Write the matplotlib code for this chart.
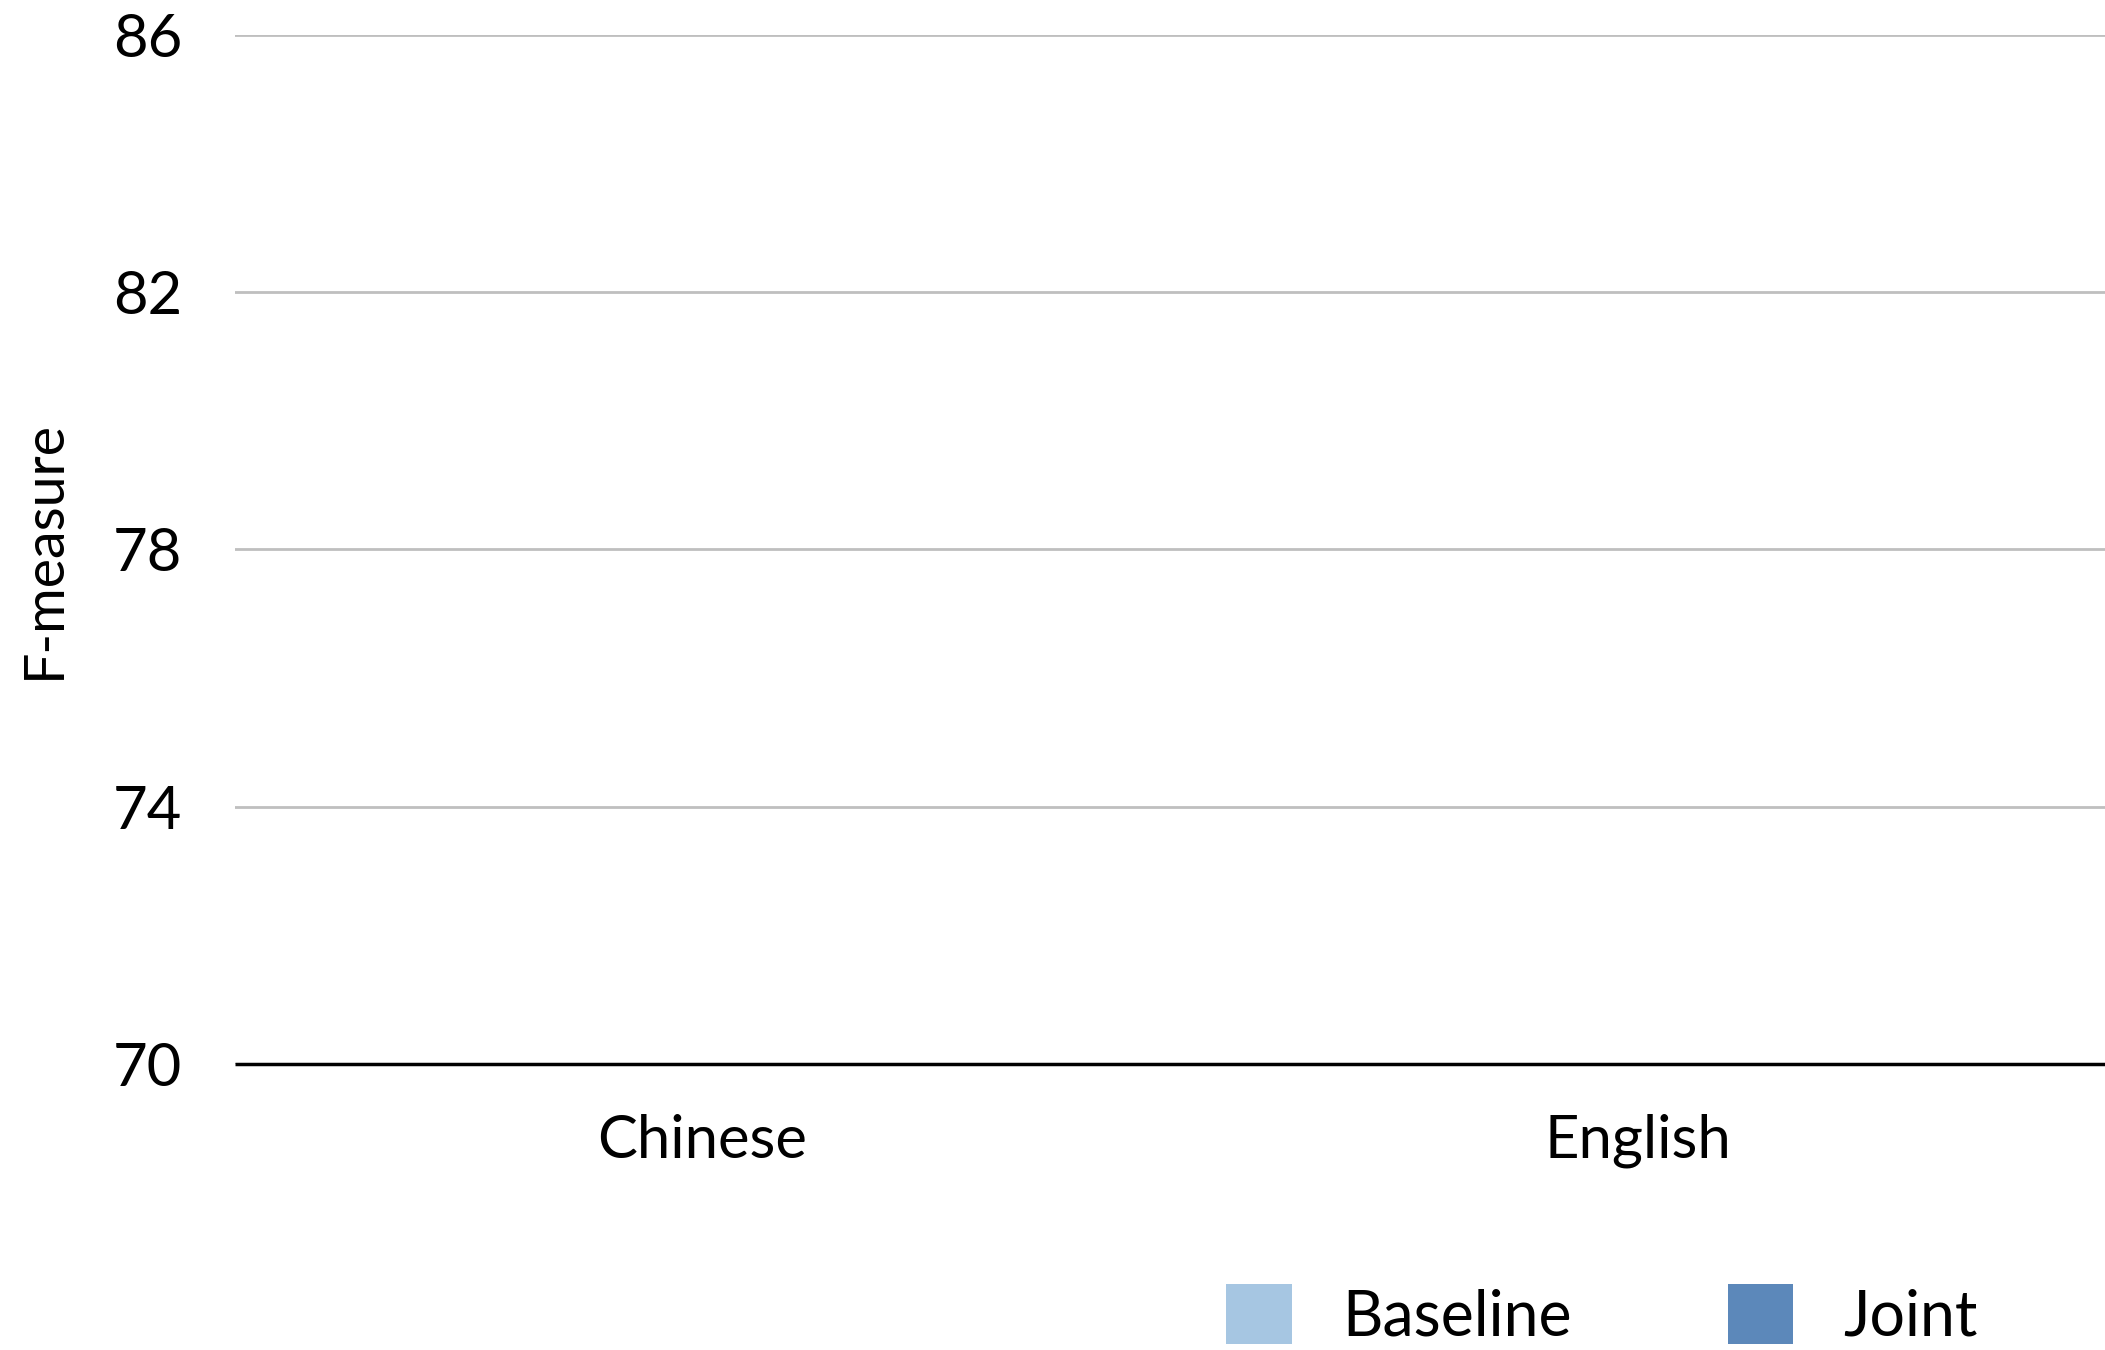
import numpy as np
import matplotlib
matplotlib.use("Agg")
import matplotlib.pyplot as plt

# Data
categories = ["Chinese", "English"]
series_names = ["Baseline", "Joint"]
baseline_scores = [np.nan, np.nan]   # no scores available for plotting
joint_scores = [np.nan, np.nan]
y_ticks = [70, 74, 78, 82, 86]

plt.rcParams["font.family"] = ["Lato", "DejaVu Sans"]

fig = plt.figure(figsize=(21.05, 13.5), dpi=100)
ax = fig.add_axes([0.1116, 0.2119, 0.8884, 0.7622])

x = np.arange(len(categories))
width = 0.3
colors = ["#a6c6e2", "#5c88ba"]
b1 = ax.bar(x - width / 2, baseline_scores, width, color=colors[0], label=series_names[0], zorder=3)
b2 = ax.bar(x + width / 2, joint_scores, width, color=colors[1], label=series_names[1], zorder=3)

ax.set_xlim(-0.5, len(categories) - 0.5)
ax.set_ylim(y_ticks[0], y_ticks[-1])
ax.set_yticks(y_ticks)
ax.set_xticks(x)
ax.set_xticklabels(categories)

ax.yaxis.grid(True, color="#bfbfbf", linewidth=2.0, zorder=0)
ax.set_axisbelow(True)
for side in ["top", "right", "left"]:
    ax.spines[side].set_visible(False)
ax.spines["bottom"].set_color("black")
ax.spines["bottom"].set_linewidth(2.5)
ax.spines["bottom"].set_zorder(4)
ax.spines["bottom"].set_capstyle("butt")

ax.tick_params(axis="y", length=0, pad=38, labelsize=43, colors="black")
ax.tick_params(axis="x", length=0, pad=36, labelsize=43, colors="black")

fig.text(0.021, 0.593, "F-measure", rotation=90, ha="center", va="center", fontsize=40)

fig.legend(handles=[b1, b2], labels=series_names, loc="center",
           bbox_to_anchor=(0.761, 0.026), ncol=2, frameon=False, fontsize=45,
           handlelength=1.05, handleheight=1.1, handletextpad=0.8,
           columnspacing=2.5, borderpad=0.0)

fig.savefig("out.png", dpi=100)
